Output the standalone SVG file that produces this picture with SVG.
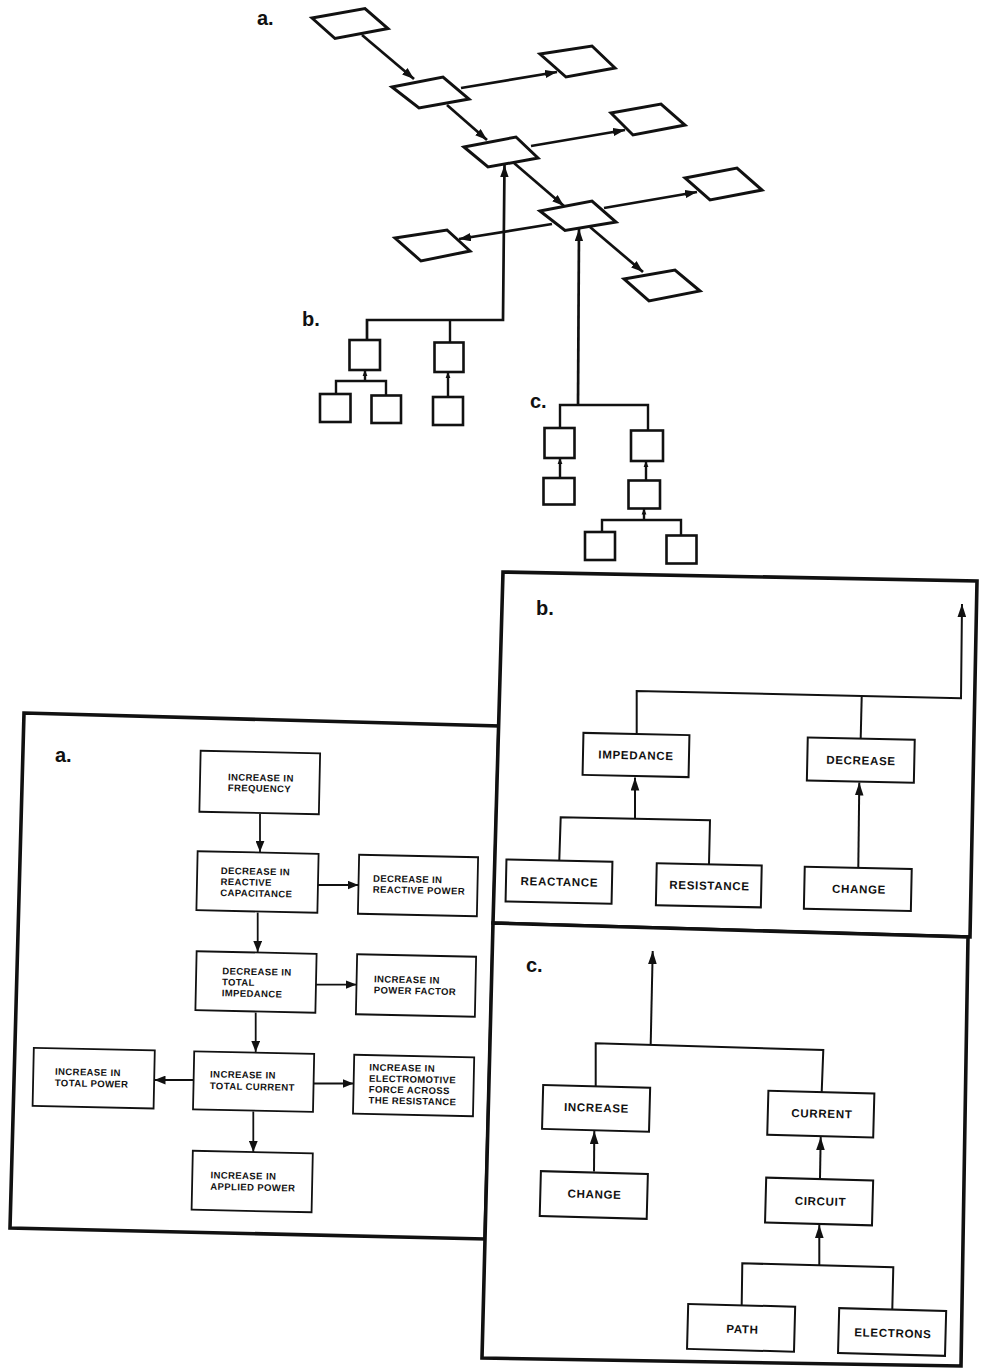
<svg xmlns="http://www.w3.org/2000/svg" width="981" height="1371" viewBox="0 0 981 1371">
<defs>
<style>
.para{fill:#fff;stroke:#111;stroke-width:3;stroke-linejoin:miter}
.sq{fill:#fff;stroke:#111;stroke-width:2.6}
.ct{fill:none;stroke:#111;stroke-width:2.7}
.cs{fill:none;stroke:#111;stroke-width:2.4}
.ca{fill:none;stroke:#111;stroke-width:1.8}
.cb{fill:none;stroke:#111;stroke-width:2}
.panel{fill:#fff;stroke:#111;stroke-width:3.6;stroke-linejoin:miter}
.bxa{fill:#fff;stroke:#111;stroke-width:1.8}
.bx{fill:#fff;stroke:#111;stroke-width:2}
.ta{font-family:"Liberation Sans",Arial,sans-serif;font-size:9.5px;font-weight:bold;letter-spacing:0.4px;fill:#111}
.tb{font-family:"Liberation Sans",Arial,sans-serif;font-size:11.5px;font-weight:bold;letter-spacing:0.7px;fill:#111;text-anchor:middle}
.lbl{font-family:"Liberation Sans",Arial,sans-serif;font-size:20px;font-weight:bold;fill:#111}
</style>
<marker id="mt" viewBox="0 0 10 7" refX="10" refY="3.5" markerWidth="12" markerHeight="8.4" markerUnits="userSpaceOnUse" orient="auto"><path d="M0,0 L10,3.5 L0,7 z" fill="#111"/></marker>
<marker id="ms" viewBox="0 0 10 8" refX="10" refY="4" markerWidth="6" markerHeight="5.5" markerUnits="userSpaceOnUse" orient="auto"><path d="M0,0 L10,4 L0,8 z" fill="#111"/></marker>
<marker id="ma" viewBox="0 0 10 8" refX="10" refY="4" markerWidth="11" markerHeight="9" markerUnits="userSpaceOnUse" orient="auto"><path d="M0,0 L10,4 L0,8 z" fill="#111"/></marker>
<marker id="mb" viewBox="0 0 12 8" refX="12" refY="4" markerWidth="13" markerHeight="9" markerUnits="userSpaceOnUse" orient="auto"><path d="M0,0 L12,4 L0,8 z" fill="#111"/></marker>
</defs>
<rect width="981" height="1371" fill="#fff"/>

<g id="labels">
<text class="lbl" x="257" y="25">a.</text>
<text class="lbl" x="302" y="326">b.</text>
<text class="lbl" x="530" y="408">c.</text>
</g>

<g id="top-a">
<polygon id="p1" class="para" points="312,18 365,8.5 388,28.5 335,38.5"/>
<polygon id="p2" class="para" points="540,54 592,46 615,68 566,77"/>
<polygon id="p3" class="para" points="392,87 443,77 469,99 419,108"/>
<polygon id="p4" class="para" points="611,113 661,104 685,125 633,135"/>
<polygon id="p5" class="para" points="464,147 516,137 538,158 488,167"/>
<polygon id="p6" class="para" points="685,178 737,168 762,190 710,200"/>
<polygon id="p7" class="para" points="540,211 592,201 616,222 565,230.5"/>
<polygon id="p8" class="para" points="395,238 447,230 470,251 421,261"/>
<polygon id="p9" class="para" points="624,279 675,270 700,291 649,301"/>
</g>

<g id="tree-b">
<rect id="b1" class="sq" x="349.5" y="340" width="30.5" height="30"/>
<rect id="b2" class="sq" x="434.5" y="342.5" width="29" height="29.5"/>
<rect id="b11" class="sq" x="320" y="394" width="30.5" height="28"/>
<rect id="b12" class="sq" x="371.5" y="395.5" width="29.5" height="27.5"/>
<rect id="b21" class="sq" x="433" y="397" width="30" height="28"/>
</g>

<g id="tree-c">
<rect id="c1" class="sq" x="544.5" y="428" width="30" height="30"/>
<rect id="c2" class="sq" x="631" y="430.5" width="32" height="30.5"/>
<rect id="c11" class="sq" x="543.5" y="478" width="31" height="26.5"/>
<rect id="c21" class="sq" x="628.5" y="480.5" width="31.5" height="28"/>
<rect id="c211" class="sq" x="585" y="532" width="30" height="28"/>
<rect id="c212" class="sq" x="666.5" y="535.5" width="30" height="28"/>
</g>

<g id="panels">
<polygon id="panel-a" class="panel" points="24,713 499,726 485,1239 10,1228"/>
<polygon id="panel-b" class="panel" points="503,572 977,581 970,937 493,923"/>
<polygon id="panel-c" class="panel" points="493,923 968,937 961,1366 482,1358"/>
<text class="lbl" x="55" y="762">a.</text>
<text class="lbl" x="536" y="615">b.</text>
<text class="lbl" x="526" y="972">c.</text>
</g>

<g id="panel-a-nodes">
<g id="a-freq" transform="rotate(1.2 259.6 782.6)"><rect class="bxa" x="200" y="752" width="119.5" height="61"/><text class="ta" x="228" y="781">INCREASE IN</text><text class="ta" x="228" y="791.7">FREQUENCY</text></g>
<g id="a-drc" transform="rotate(1.2 257.5 882)"><rect class="bxa" x="197" y="852.5" width="121" height="59"/><text class="ta" x="220.5" y="874.7">DECREASE IN</text><text class="ta" x="220.5" y="885.7">REACTIVE</text><text class="ta" x="220.5" y="896.7">CAPACITANCE</text></g>
<g id="a-drp" transform="rotate(1.2 418 885.5)"><rect class="bxa" x="358.5" y="856" width="119" height="59"/><text class="ta" x="373" y="882.6">DECREASE IN</text><text class="ta" x="373" y="893.6">REACTIVE POWER</text></g>
<g id="a-dti" transform="rotate(1.2 255.8 982)"><rect class="bxa" x="196" y="952.5" width="120" height="59"/><text class="ta" x="222" y="975">DECREASE IN</text><text class="ta" x="222" y="986">TOTAL</text><text class="ta" x="222" y="997">IMPEDANCE</text></g>
<g id="a-ipf" transform="rotate(1.2 416 985.5)"><rect class="bxa" x="356.5" y="955.5" width="119" height="60"/><text class="ta" x="374" y="983.2">INCREASE IN</text><text class="ta" x="374" y="994.2">POWER FACTOR</text></g>
<g id="a-itc" transform="rotate(1.2 253.6 1081.6)"><rect class="bxa" x="193.6" y="1052.6" width="120" height="58"/><text class="ta" x="210" y="1078.3">INCREASE IN</text><text class="ta" x="210" y="1090">TOTAL CURRENT</text></g>
<g id="a-itp" transform="rotate(1.2 93.7 1078.2)"><rect class="bxa" x="33.2" y="1049.2" width="121" height="58"/><text class="ta" x="55" y="1075.6">INCREASE IN</text><text class="ta" x="55" y="1086.9">TOTAL POWER</text></g>
<g id="a-emf" transform="rotate(1.2 413.6 1085.5)"><rect class="bxa" x="353.6" y="1056" width="120" height="59"/><text class="ta" x="369" y="1071.4">INCREASE IN</text><text class="ta" x="369" y="1082.6">ELECTROMOTIVE</text><text class="ta" x="369" y="1093.4">FORCE ACROSS</text><text class="ta" x="369" y="1104.4">THE RESISTANCE</text></g>
<g id="a-app" transform="rotate(1.2 252.2 1181.5)"><rect class="bxa" x="192.2" y="1152" width="120" height="59"/><text class="ta" x="210.5" y="1179.2">INCREASE IN</text><text class="ta" x="210.5" y="1190.6">APPLIED POWER</text></g>
</g>

<g id="panel-b-nodes">
<g id="b-imp" transform="rotate(1.2 636 755)"><rect class="bx" x="583" y="734" width="106" height="42"/><text class="tb" x="636" y="759.3">IMPEDANCE</text></g>
<g id="b-dec" transform="rotate(1.2 860.8 760.2)"><rect class="bx" x="807.3" y="738.7" width="107" height="43"/><text class="tb" x="861" y="764.5">DECREASE</text></g>
<g id="b-rea" transform="rotate(1.2 559 881.6)"><rect class="bx" x="506" y="860.6" width="106" height="42"/><text class="tb" x="559.5" y="885.8">REACTANCE</text></g>
<g id="b-res" transform="rotate(1.2 708.8 885.3)"><rect class="bx" x="656.3" y="864.3" width="105" height="42"/><text class="tb" x="709.5" y="889.6">RESISTANCE</text></g>
<g id="b-chg" transform="rotate(1.2 857.8 888.8)"><rect class="bx" x="804.3" y="867.8" width="107" height="42"/><text class="tb" x="859" y="893.2">CHANGE</text></g>
</g>

<g id="panel-c-nodes">
<g id="c-inc" transform="rotate(1.5 596.1 1108.3)"><rect class="bx" x="542.6" y="1086.3" width="107" height="44"/><text class="tb" x="596.5" y="1111.8">INCREASE</text></g>
<g id="c-cur" transform="rotate(1.5 820.8 1114.1)"><rect class="bx" x="767.8" y="1092.1" width="106" height="44"/><text class="tb" x="822" y="1117.7">CURRENT</text></g>
<g id="c-chg" transform="rotate(1.5 593.8 1195)"><rect class="bx" x="540.3" y="1172.5" width="107" height="45"/><text class="tb" x="594.5" y="1198.3">CHANGE</text></g>
<g id="c-cir" transform="rotate(1.5 819.1 1201.5)"><rect class="bx" x="765.6" y="1179" width="107" height="45"/><text class="tb" x="820.5" y="1205.3">CIRCUIT</text></g>
<g id="c-path" transform="rotate(1.5 741.1 1327.8)"><rect class="bx" x="687.6" y="1305.3" width="107" height="45"/><text class="tb" x="742.5" y="1333.2">PATH</text></g>
<g id="c-ele" transform="rotate(1.5 892.1 1332)"><rect class="bx" x="838.6" y="1309.5" width="107" height="45"/><text class="tb" x="893" y="1337.2">ELECTRONS</text></g>
</g>

<g id="connectors">
<line class="ct" x1="362" y1="35" x2="414" y2="79" marker-end="url(#mt)"/>
<line class="ct" x1="461" y1="88" x2="557" y2="72" marker-end="url(#mt)"/>
<line class="ct" x1="447" y1="105" x2="487" y2="140" marker-end="url(#mt)"/>
<line class="ct" x1="531" y1="146" x2="625" y2="130" marker-end="url(#mt)"/>
<line class="ct" x1="514" y1="163" x2="564" y2="206" marker-end="url(#mt)"/>
<line class="ct" x1="604" y1="208" x2="697" y2="192" marker-end="url(#mt)"/>
<line class="ct" x1="552" y1="224" x2="459" y2="239" marker-end="url(#mt)"/>
<line class="ct" x1="590" y1="227" x2="643" y2="272" marker-end="url(#mt)"/>
<polyline class="ct" points="367,340 367,320 503,320 504.5,165" marker-end="url(#mt)"/>
<line class="ct" x1="578" y1="405" x2="579" y2="229" marker-end="url(#mt)"/>
<line class="cs" x1="450" y1="320" x2="450" y2="342.5"/>
<polyline class="cs" points="336,394 336,381 386,381 386,395.5"/>
<line class="cs" x1="365" y1="381" x2="365" y2="370" marker-end="url(#ms)"/>
<line class="cs" x1="448" y1="397" x2="448" y2="372" marker-end="url(#ms)"/>
<polyline class="cs" points="560,428 560,405 648,405 648,430.5"/>
<line class="cs" x1="560" y1="478" x2="560" y2="458" marker-end="url(#ms)"/>
<line class="cs" x1="646" y1="480.5" x2="646" y2="461" marker-end="url(#ms)"/>
<polyline class="cs" points="602,532 602,520 681,520 681,535.5"/>
<line class="cs" x1="644" y1="520" x2="644" y2="508.5" marker-end="url(#ms)"/>
<line class="ca" x1="260" y1="814" x2="260" y2="852" marker-end="url(#ma)"/>
<line class="ca" x1="318" y1="885" x2="358.5" y2="885" marker-end="url(#ma)"/>
<line class="ca" x1="257.7" y1="912.5" x2="257.7" y2="952" marker-end="url(#ma)"/>
<line class="ca" x1="316" y1="984.6" x2="356.5" y2="984.6" marker-end="url(#ma)"/>
<line class="ca" x1="255.7" y1="1012.5" x2="255.7" y2="1052" marker-end="url(#ma)"/>
<line class="ca" x1="193.5" y1="1080" x2="154.5" y2="1080" marker-end="url(#ma)"/>
<line class="ca" x1="314" y1="1083.5" x2="353.5" y2="1083.5" marker-end="url(#ma)"/>
<line class="ca" x1="253.3" y1="1111.5" x2="253.3" y2="1152" marker-end="url(#ma)"/>
<polyline class="cb" points="636.7,733 636.7,691 961,698.3 962,604" marker-end="url(#mb)"/>
<line class="cb" x1="861.7" y1="696.7" x2="860.7" y2="738"/>
<polyline class="cb" points="559.3,860 560.7,817.3 710,820.3 709,864"/>
<line class="cb" x1="635" y1="818.3" x2="635" y2="777.5" marker-end="url(#mb)"/>
<line class="cb" x1="858.3" y1="867" x2="859.3" y2="782.5" marker-end="url(#mb)"/>
<polyline class="cb" points="595.7,1086 595.7,1043.3 823.3,1050 821.7,1092"/>
<line class="cb" x1="650.7" y1="1044" x2="652.7" y2="951" marker-end="url(#mb)"/>
<line class="cb" x1="594" y1="1171.5" x2="594.3" y2="1131" marker-end="url(#mb)"/>
<line class="cb" x1="820" y1="1178" x2="820.7" y2="1137" marker-end="url(#mb)"/>
<polyline class="cb" points="741.7,1305 742.3,1263.3 893.3,1267.3 892.3,1309"/>
<line class="cb" x1="819.3" y1="1265" x2="819.3" y2="1225" marker-end="url(#mb)"/>
</g>
</svg>
